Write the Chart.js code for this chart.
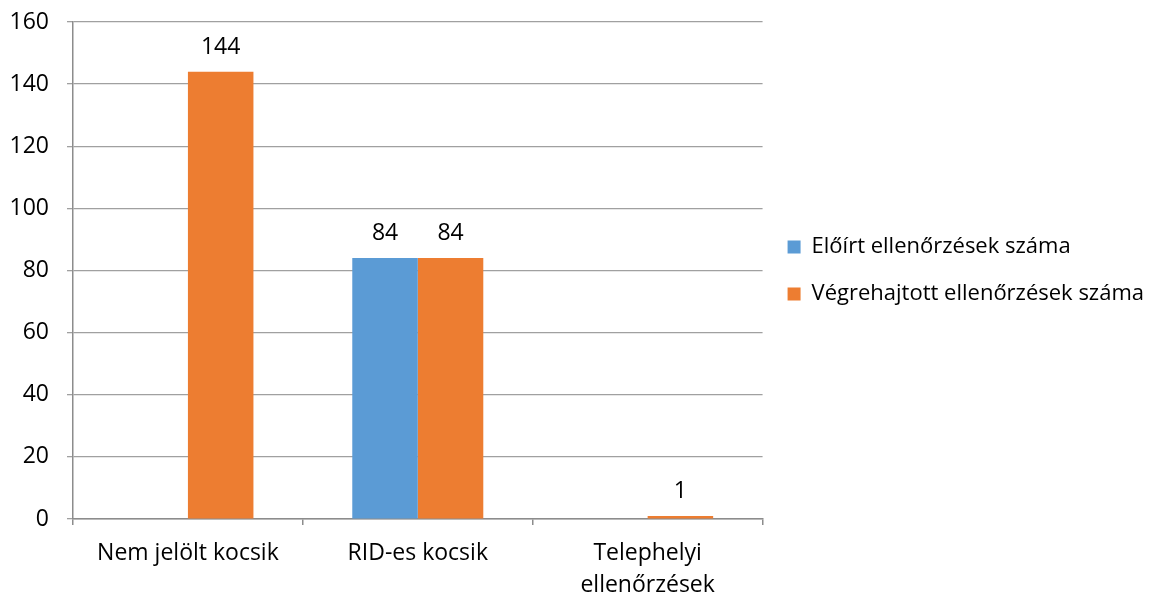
<!DOCTYPE html>
<html>
<head>
<meta charset="utf-8">
<script src="https://cdn.jsdelivr.net/npm/chart.js@4.4.1/dist/chart.umd.min.js"></script>
<style>
  html, body { margin: 0; padding: 0; background: #fff; }
  #wrap { width: 1161px; height: 594px; }
</style>
</head>
<body>
<div id="wrap"><canvas id="chart"></canvas></div>
<script>
// chart data
const categories = ['Nem jelölt kocsik', 'RID-es kocsik', ['Telephelyi', 'ellenőrzések']];
const seriesNames = ['Előírt ellenőrzések száma', 'Végrehajtott ellenőrzések száma'];
const eloirt = [null, 84, null];
const vegrehajtott = [144, 84, 1];
const yTicks = [0, 20, 40, 60, 80, 100, 120, 140, 160];

const FONT = "'Open Sans', sans-serif";
const FSIZE = 23;
const gridColor = '#a0a0a0';
const axisColor = '#8c8c8c';

// draws the value above each bar
const valueLabels = {
    id: 'valueLabels',
    afterDatasetsDraw(chart) {
        const ctx = chart.ctx;
        ctx.save();
        ctx.font = FSIZE + 'px ' + FONT;
        ctx.fillStyle = '#000';
        ctx.textAlign = 'center';
        ctx.textBaseline = 'bottom';
        chart.data.datasets.forEach(function (ds, i) {
            const meta = chart.getDatasetMeta(i);
            meta.data.forEach(function (bar, j) {
                const v = ds.data[j];
                if (v === null || v === undefined) return;
                ctx.fillText(String(v), bar.x, bar.y - 13);
            });
        });
        ctx.restore();
    }
};

function draw() {
    new Chart(document.getElementById('chart'), {
        type: 'bar',
        data: {
            labels: categories,
            datasets: [
                { label: seriesNames[0], data: eloirt, backgroundColor: '#5B9BD5' },
                { label: seriesNames[1], data: vegrehajtott, backgroundColor: '#ED7D31' }
            ]
        },
        options: {
            responsive: true,
            maintainAspectRatio: false,
            animation: false,
            layout: { padding: { left: 0, top: 22, right: 7, bottom: -19 } },
            datasets: { bar: { categoryPercentage: 0.57, barPercentage: 1.0 } },
            plugins: {
                tooltip: { enabled: false },
                legend: {
                    position: 'right',
                    fullSize: false,
                    maxWidth: 420,
                    labels: {
                        color: '#000',
                        font: { family: FONT, size: 22 },
                        boxWidth: 13,
                        boxHeight: 13,
                        padding: 25
                    }
                }
            },
            scales: {
                x: {
                    afterFit(axis) { axis.paddingLeft = 0; axis.paddingRight = 0; },
                    grid: { drawOnChartArea: false, offset: true, tickLength: 6, color: axisColor, lineWidth: 1.5 },
                    border: { color: axisColor, width: 1.5 },
                    ticks: { color: '#000', font: { family: FONT, size: FSIZE, lineHeight: 1.39 }, padding: 12, maxRotation: 0 }
                },
                y: {
                    min: 0,
                    max: 160,
                    afterBuildTicks(axis) { axis.ticks = yTicks.map(v => ({ value: v })); },
                    afterFit(axis) { axis.paddingTop = 0; axis.paddingBottom = 0; axis.width = 73; },
                    grid: { color: gridColor, tickLength: 6, lineWidth: 1.3 },
                    border: { color: axisColor, width: 1.5 },
                    ticks: { color: '#000', font: { family: FONT, size: FSIZE }, padding: 18 }
                }
            }
        },
        plugins: [valueLabels]
    });
}

document.fonts.load(FSIZE + 'px "Open Sans"').then(draw, draw);
</script>
</body>
</html>
